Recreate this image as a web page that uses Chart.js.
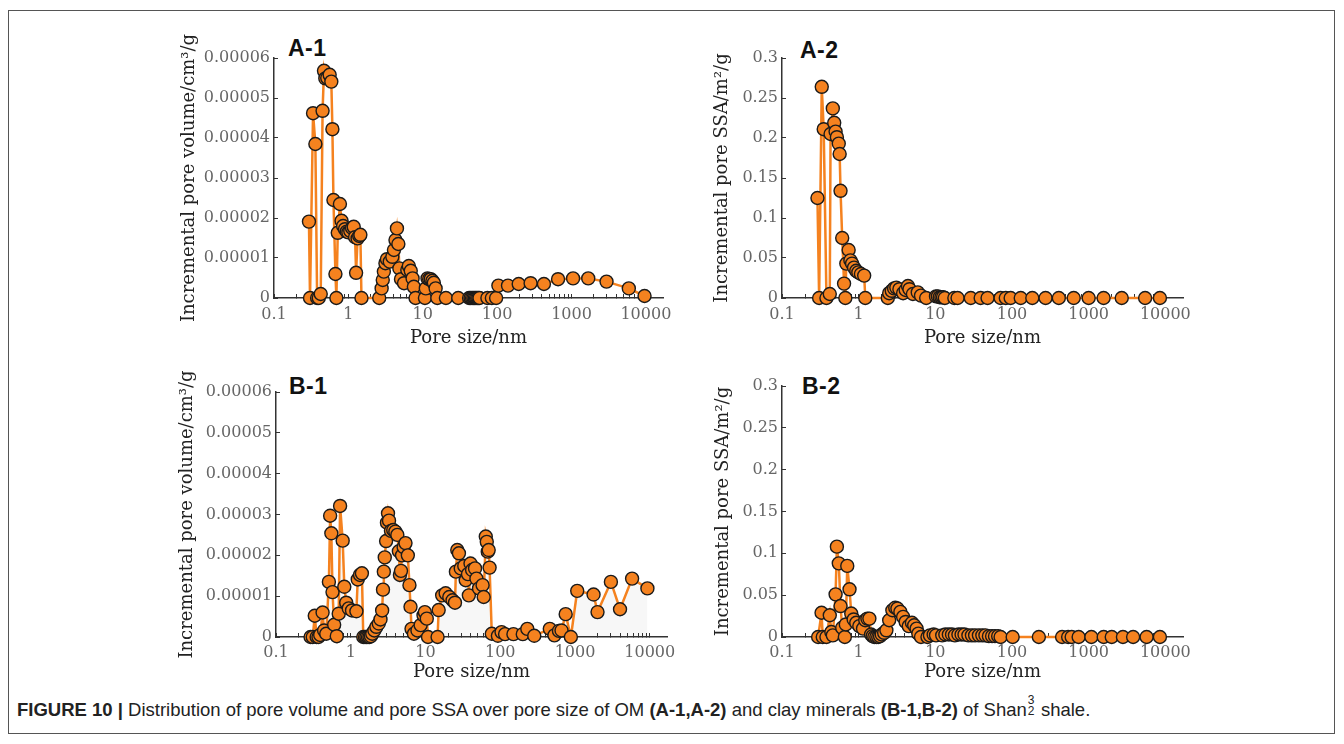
<!DOCTYPE html>
<html>
<head>
<meta charset="utf-8">
<script src="https://cdn.jsdelivr.net/npm/chart.js@4.4.1/dist/chart.umd.min.js"></script>
<style>
  body { margin: 0; background: #fff; width: 1344px; height: 744px; position: relative; overflow: hidden; }
  #frame { position: absolute; left: 8px; top: 10px; width: 1327px; height: 724px; border: 1px solid #555; box-sizing: border-box; }
  canvas { position: absolute; }
  .tag { position: absolute; font: bold 23px "Liberation Sans", Arial, sans-serif; line-height: 22px; color: #111; letter-spacing: 0.5px; }
  #caption { position: absolute; left: 17px; top: 697px; font: 18.5px "Liberation Sans", Arial, sans-serif; line-height: 22px; color: #222; white-space: nowrap; }
  .ss { position: relative; display: inline-block; width: 9px; height: 1em; }
  .ss span { position: absolute; left: 1px; font-size: 12px; line-height: 12px; }
</style>
</head>
<body>
<div id="frame"></div>
<div class="tag" style="left:288px;top:37px">A-1</div>
<div class="tag" style="left:800px;top:39px">A-2</div>
<div class="tag" style="left:289px;top:375px">B-1</div>
<div class="tag" style="left:802px;top:375px">B-2</div>
<div id="caption"><b>FIGURE 10 |</b> Distribution of pore volume and pore SSA over pore size of OM <b>(A-1,A-2)</b> and clay minerals <b>(B-1,B-2)</b> of Shan<span class="ss"><span style="top:-3px">3</span><span style="top:8px">2</span></span> shale.</div>

<script>
// pore size (nm) and incremental values

// A-1: OM, pore volume (cm3/g)
const a1Size = [0.295, 0.305, 0.335, 0.36, 0.38, 0.40, 0.425, 0.45, 0.47, 0.49, 0.52, 0.56, 0.59, 0.61, 0.63, 0.67, 0.69,
  0.72, 0.77, 0.81, 0.85, 0.90, 0.95, 1.0, 1.06, 1.12, 1.18, 1.23, 1.27, 1.33, 1.4, 1.45, 1.5,
  2.6, 2.8, 2.9, 3.0, 3.15, 3.3, 3.6, 3.9, 4.1, 4.3, 4.5, 4.7, 4.85, 5.1, 5.6, 6.2, 6.5, 6.9, 7.3, 7.6, 8.0,
  10.7, 11.0, 11.6, 12.2, 12.8, 13.5, 14.1, 14.9, 15.7, 20.5, 30, 42, 44, 46, 48, 50, 52, 54, 56, 58, 74, 85, 97,
  104, 140, 195, 282, 426, 660, 1050, 1680, 2960, 5900, 9600];
const a1Volume = [1.91e-5, 0, 4.62e-5, 3.85e-5, 0, 0, 0.1e-5, 4.68e-5, 5.68e-5, 5.49e-5, 5.5e-5, 5.58e-5, 5.41e-5, 4.22e-5, 2.45e-5, 0.6e-5, 0,
  1.63e-5, 2.35e-5, 1.93e-5, 1.8e-5, 1.72e-5, 1.66e-5, 1.64e-5, 1.68e-5, 1.75e-5, 1.78e-5, 1.52e-5, 0.63e-5, 1.49e-5, 1.55e-5, 1.58e-5, 0,
  0, 0.24e-5, 0.45e-5, 0.66e-5, 0.87e-5, 0.97e-5, 0.91e-5, 1.03e-5, 1.2e-5, 1.45e-5, 1.74e-5, 1.35e-5, 0.74e-5, 0.47e-5, 0.37e-5, 0.7e-5, 0.8e-5, 0.68e-5, 0.49e-5, 0.28e-5, 0,
  0, 0.24e-5, 0.49e-5, 0.47e-5, 0.47e-5, 0.43e-5, 0.38e-5, 0.24e-5, 0, 0, 0, 0, 0, 0, 0, 0, 0, 0, 0, 0, 0, 0, 0,
  0.31e-5, 0.31e-5, 0.35e-5, 0.37e-5, 0.35e-5, 0.47e-5, 0.49e-5, 0.49e-5, 0.41e-5, 0.24e-5, 0.05e-5];

// A-2: OM, pore SSA (m2/g)
const a2Size = [0.29, 0.305, 0.33, 0.35, 0.38, 0.42, 0.43, 0.46, 0.48, 0.50, 0.52, 0.55, 0.565, 0.58, 0.61, 0.645, 0.67,
  0.69, 0.74, 0.78, 0.82, 0.87, 0.93, 0.99, 1.07, 1.18, 1.22,
  2.4, 2.5, 2.7, 2.9, 3.1, 3.4, 3.8, 4.1, 4.4, 4.6, 5.1, 5.9, 6.5, 7.6,
  10.2, 10.8, 11.4, 12, 12.6, 13.3, 17.7, 19.5, 29, 39, 48, 71, 83, 96,
  130, 184, 274, 408, 638, 1000, 1566, 2700, 5450, 8500];
const a2Ssa = [0.125, 0, 0.264, 0.211, 0, 0.005, 0.205, 0.237, 0.219, 0.208, 0.201, 0.193, 0.18, 0.134, 0.075, 0.018, 0,
  0.043, 0.06, 0.047, 0.043, 0.038, 0.034, 0.032, 0.03, 0.028, 0,
  0, 0.006, 0.009, 0.012, 0.013, 0.011, 0.006, 0.01, 0.015, 0.011, 0.005, 0.007, 0.003, 0,
  0.002, 0.002, 0.001, 0.001, 0.001, 0, 0, 0, 0, 0, 0, 0, 0, 0,
  0, 0, 0, 0, 0, 0, 0, 0, 0, 0];

// B-1: clay minerals, pore volume (cm3/g)
const b1Size = [0.29, 0.31, 0.33, 0.35, 0.37, 0.39, 0.42, 0.44, 0.47, 0.51, 0.53, 0.55, 0.57, 0.60, 0.65, 0.69, 0.72,
  0.78, 0.82, 0.87, 0.94, 1.04, 1.19, 1.24, 1.33, 1.41, 1.47, 1.55, 1.62, 1.70, 1.78, 1.86, 1.94, 2.07, 2.2, 2.37, 2.5,
  2.63, 2.7, 2.77, 2.85, 2.97, 3.05, 3.15, 3.25, 3.45, 3.7, 3.95, 4.2, 4.4, 4.55, 4.7, 4.85, 5.1, 5.4, 5.8, 6.1, 6.3, 6.5,
  7.0, 7.8, 8.6, 9.4, 9.8, 10.4, 10.8, 14.5, 15.0, 16.7, 18.6, 20.8, 23, 24.8, 25.5, 26.6, 28, 29.6, 33, 34.5, 37, 38,
  40, 42, 46, 48, 52, 58, 60, 64, 66, 68, 70, 72, 77, 93, 104, 116, 150, 200, 230, 285,
  460, 530, 610, 660, 750, 880, 1070, 1770, 2000, 3020, 4000, 5800, 9300];
const b1Volume = [0, 0, 0.52e-5, 0, 0, 0.05e-5, 0.6e-5, 0.16e-5, 0.08e-5, 1.35e-5, 2.97e-5, 2.54e-5, 1.1e-5, 0.3e-5, 0.02e-5, 0.57e-5, 3.21e-5,
  2.36e-5, 1.23e-5, 0.84e-5, 0.7e-5, 0.65e-5, 0.63e-5, 1.41e-5, 1.52e-5, 1.56e-5, 0, 0, 0, 0, 0, 0.02e-5, 0.08e-5, 0.16e-5, 0.25e-5, 0.33e-5, 0.43e-5,
  0.65e-5, 1.16e-5, 1.6e-5, 1.95e-5, 2.35e-5, 2.8e-5, 3.03e-5, 2.85e-5, 2.6e-5, 2.62e-5, 2.58e-5, 2.5e-5, 2.1e-5, 1.52e-5, 1.62e-5, 2.0e-5, 2.2e-5, 2.3e-5, 2.0e-5, 1.27e-5, 0.74e-5, 0.2e-5,
  0.08e-5, 0.16e-5, 0.29e-5, 0.53e-5, 0.61e-5, 0.45e-5, 0, 0, 0.66e-5, 1.02e-5, 1.07e-5, 0.98e-5, 0.9e-5, 0.84e-5, 1.6e-5, 2.13e-5, 2.05e-5, 1.68e-5, 1.74e-5, 1.39e-5, 1.54e-5, 1.02e-5,
  1.8e-5, 1.64e-5, 1.68e-5, 1.43e-5, 1.19e-5, 1.27e-5, 0.98e-5, 2.46e-5, 2.33e-5, 2.09e-5, 2.13e-5, 1.7e-5, 0.08e-5, 0.03e-5, 0.12e-5, 0.07e-5, 0.07e-5, 0.07e-5, 0.2e-5, 0.03e-5,
  0.2e-5, 0.04e-5, 0.15e-5, 0.16e-5, 0.56e-5, 0, 1.13e-5, 1.04e-5, 0.61e-5, 1.35e-5, 0.68e-5, 1.43e-5, 1.19e-5];

// B-2: clay minerals, pore SSA (m2/g)
const b2Size = [0.296, 0.328, 0.34, 0.38, 0.42, 0.44, 0.46, 0.50, 0.52, 0.55, 0.58, 0.61, 0.66, 0.68, 0.71, 0.76, 0.80,
  0.86, 0.93, 1.02, 1.14, 1.22, 1.3, 1.38, 1.45, 1.52, 1.6, 1.7, 1.8, 1.9, 2.0, 2.15, 2.3, 2.5, 2.75, 3.0, 3.2, 3.5,
  3.8, 4.1, 4.5, 4.95, 5.3, 5.7, 6.0, 6.5, 7.9, 8.5, 9.5, 10.2,
  12.3, 13.5, 15, 16.5, 18, 20, 22, 24, 27, 30, 33, 37, 41, 45, 50, 55, 60, 66,
  71, 102, 224, 450, 540, 600, 740, 1085, 1570, 2000, 2800, 3800, 5700, 8500];
const b2Ssa = [0, 0.029, 0, 0, 0.026, 0.006, 0.002, 0.051, 0.108, 0.088, 0.037, 0.011, 0, 0.015, 0.085, 0.057, 0.028,
  0.021, 0.017, 0.013, 0.01, 0.02, 0.022, 0.022, 0.003, 0.001, 0, 0, 0, 0.001, 0.003, 0.005, 0.008, 0.02, 0.032, 0.035, 0.034, 0.03,
  0.024, 0.018, 0.013, 0.017, 0.014, 0.01, 0.004, 0, 0, 0.002, 0.003, 0.002,
  0.002, 0.003, 0.003, 0.003, 0.002, 0.003, 0.003, 0.003, 0.002, 0.002, 0.002, 0.002, 0.002, 0.002, 0.001, 0.001, 0.001, 0.001,
  0, 0, 0, 0, 0, 0, 0, 0, 0, 0, 0, 0, 0, 0];

// axis ticks
const xMajor = [0.1, 1, 10, 100, 1000, 10000];
const xMax = 17000;
const volTicks = [0, 0.00001, 0.00002, 0.00003, 0.00004, 0.00005, 0.00006];
const volLabels = ['0', '0.00001', '0.00002', '0.00003', '0.00004', '0.00005', '0.00006'];
const ssaTicks = [0, 0.05, 0.1, 0.15, 0.2, 0.25, 0.3];
const ssaLabels = ['0', '0.05', '0.1', '0.15', '0.2', '0.25', '0.3'];

const xTicks = [];
xMajor.forEach(d => {
  for (let m = 1; m <= 9; m++) {
    if (d * m <= xMax) xTicks.push(m === 1 ? d : d * m);
  }
});

const ORANGE = '#F5821F';
const SERIF = 'DejaVu Serif';
const TICK_SIZE = 16, TITLE_SIZE = 18;

const panels = [
  { left: 160, top: 20, w: 530, h: 335, area: { l: 274, t: 58, r: 663, b: 298 }, yTitleX: 189, xTitleY: 338, xTickY: 315,
    sizes: a1Size, values: a1Volume, yTicks: volTicks, yLabels: volLabels, yTitle: 'Incremental pore volume/cm³/g' },
  { left: 690, top: 20, w: 510, h: 335, area: { l: 782, t: 58, r: 1183, b: 298 }, yTitleX: 722, xTitleY: 338, xTickY: 315,
    sizes: a2Size, values: a2Ssa, yTicks: ssaTicks, yLabels: ssaLabels, yTitle: 'Incremental pore SSA/m²/g' },
  { left: 160, top: 355, w: 530, h: 335, area: { l: 276, t: 392, r: 667, b: 637 }, yTitleX: 187, xTitleY: 672, xTickY: 653,
    sizes: b1Size, values: b1Volume, yTicks: volTicks, yLabels: volLabels, yTitle: 'Incremental pore volume/cm³/g', fill: true },
  { left: 690, top: 355, w: 510, h: 335, area: { l: 782, t: 386, r: 1183, b: 637 }, yTitleX: 723, xTitleY: 672, xTickY: 653,
    sizes: b2Size, values: b2Ssa, yTicks: ssaTicks, yLabels: ssaLabels, yTitle: 'Incremental pore SSA/m²/g' },
];

function makeChart(p) {
  const canvas = document.createElement('canvas');
  canvas.width = p.w;
  canvas.height = p.h;
  canvas.style.left = p.left + 'px';
  canvas.style.top = p.top + 'px';
  document.body.appendChild(canvas);

  const tl = -4; // ticks point inward
  const yWidth = p.area.l - p.left;
  const xHeight = p.xTitleY - p.area.b + TITLE_SIZE * 1.2 / 2;
  const gridOpts = { drawOnChartArea: false, drawTicks: true, tickLength: tl, color: '#333', lineWidth: 1 };
  const borderOpts = { display: true, color: '#333', width: 1.5 };

  new Chart(canvas, {
    type: 'line',
    data: {
      datasets: [{
        data: p.sizes.map((x, i) => ({ x: x, y: p.values[i] })),
        borderColor: ORANGE,
        borderWidth: 2.5,
        tension: 0,
        pointRadius: 6.5,
        pointBackgroundColor: ORANGE,
        pointBorderColor: '#1a1a1a',
        pointBorderWidth: 1.4,
        fill: p.fill ? 'origin' : false,
        backgroundColor: 'rgba(0,0,0,0.03)',
        clip: false,
      }]
    },
    options: {
      responsive: false,
      animation: false,
      events: [],
      layout: {
        autoPadding: false,
        padding: { left: 0, top: p.area.t - p.top, right: p.left + p.w - p.area.r, bottom: p.top + p.h - p.area.b - xHeight }
      },
      plugins: { legend: { display: false }, tooltip: { enabled: false } },
      scales: {
        x: {
          type: 'logarithmic',
          min: 0.1,
          max: xMax,
          afterBuildTicks: s => { s.ticks = xTicks.map(v => ({ value: v })); },
          afterFit: s => { s.height = xHeight; s.paddingLeft = 0; s.paddingRight = 0; },
          grid: gridOpts,
          border: borderOpts,
          ticks: {
            autoSkip: false, maxRotation: 0, minRotation: 0,
            padding: p.xTickY - p.area.b - tl - TICK_SIZE * 1.2 / 2,
            color: '#666', font: { family: SERIF, size: TICK_SIZE },
            callback: v => xMajor.includes(v) ? String(v) : ''
          },
          title: { display: true, text: 'Pore size/nm', color: '#222', font: { family: SERIF, size: TITLE_SIZE }, padding: 0 }
        },
        y: {
          min: 0,
          max: p.yTicks[p.yTicks.length - 1],
          afterBuildTicks: s => { s.ticks = p.yTicks.map(v => ({ value: v })); },
          afterFit: s => { s.width = yWidth; s.paddingTop = 0; s.paddingBottom = 0; },
          grid: gridOpts,
          border: borderOpts,
          ticks: {
            autoSkip: false, padding: 8,
            color: '#666', font: { family: SERIF, size: TICK_SIZE },
            callback: (v, i) => p.yLabels[i]
          },
          title: {
            display: true, text: p.yTitle, color: '#222', font: { family: SERIF, size: TITLE_SIZE },
            padding: { top: p.yTitleX - p.left - TITLE_SIZE * 1.2 / 2, bottom: 0 }
          }
        }
      }
    }
  });
}

panels.forEach(makeChart);
</script>
</body>
</html>
